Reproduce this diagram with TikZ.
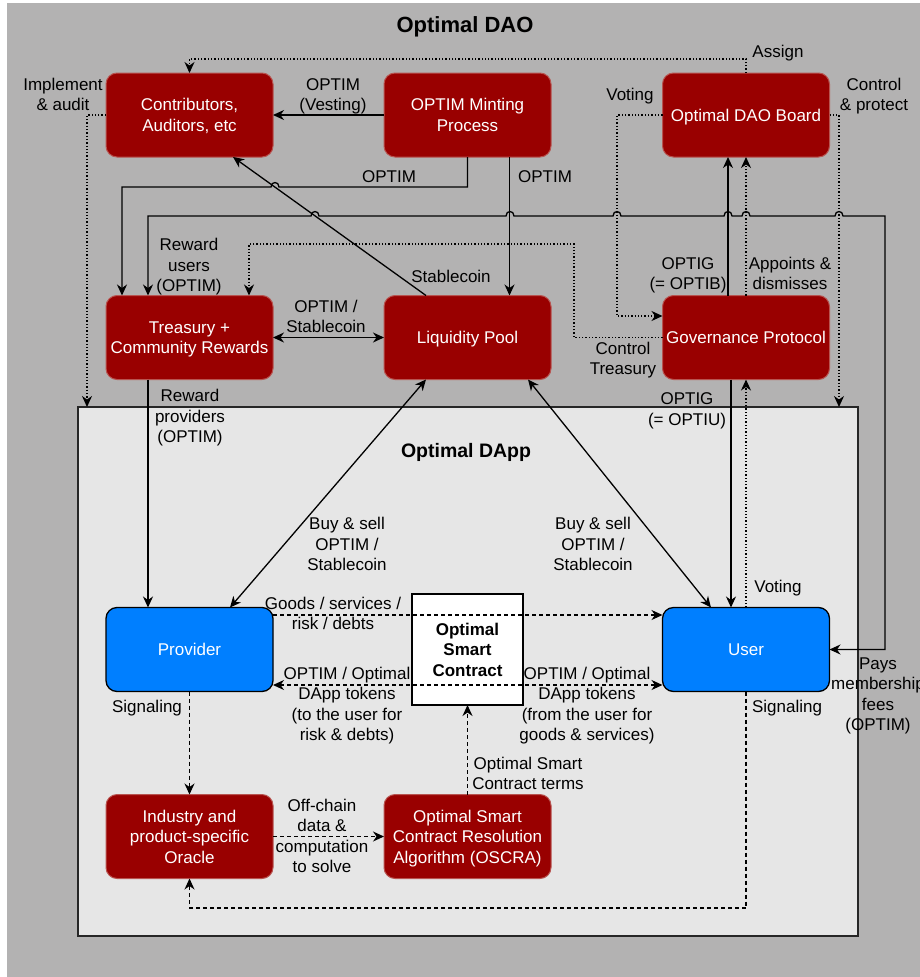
\documentclass[tikz,border=0pt]{standalone}
\usepackage{fontspec}
\setmainfont{Liberation Sans}
\usetikzlibrary{arrows.meta}

\definecolor{daogray}{RGB}{179,178,178}
\definecolor{dappgray}{RGB}{230,230,230}
\definecolor{daored}{RGB}{153,0,0}
\definecolor{daoedge}{RGB}{184,84,80}
\definecolor{dappblue}{RGB}{0,127,255}

\newcommand\linehop[2]{-- (#1+4,#2) .. controls (#1+4,#2-6) and (#1-4,#2-6) .. (#1-4,#2)}

\begin{document}
\begin{tikzpicture}[x=1pt,y=-1pt,font=\fontsize{17}{20.5}\selectfont,
  redbox/.style={draw=daoedge,fill=daored,text=white,line width=1pt,rounded corners=11pt,
    minimum width=167pt,minimum height=84pt,align=center,inner sep=1pt,outer sep=0pt,text depth=0pt},
  bluebox/.style={draw=black,fill=dappblue,text=white,line width=1.3pt,rounded corners=11pt,
    minimum width=167pt,minimum height=84pt,outer sep=0pt,text depth=0pt},
  lbl/.style={align=center,inner sep=0pt,text depth=0pt},
  flow/.style={line width=1.3pt,-{Stealth[length=11pt,width=10pt,inset=3.5pt]}},
  twoway/.style={line width=1.3pt,{Stealth[length=11pt,width=10pt,inset=3.5pt]}-{Stealth[length=11pt,width=10pt,inset=3.5pt]}},
  dotline/.style={dash pattern=on 1.3pt off 2pt},
  dashline/.style={dash pattern=on 4pt off 3pt}]
\useasboundingbox (0,0) rectangle (920,977);
\fill[daogray] (7,3) rectangle (920,977);
\node[draw=black!85,fill=dappgray,line width=1.3pt,minimum width=780pt,minimum height=529pt,outer sep=0pt] (dapp) at (468,671.5) {};

\node[font=\bfseries\fontsize{22}{26}\selectfont,text depth=0pt] (daotitle) at (465,25) {Optimal DAO};
\node[font=\bfseries\fontsize{19.5}{23}\selectfont,text depth=0pt] (dapptitle) at (466,450) {Optimal DApp};

\node[redbox] (contrib) at (189.5,115) {Contributors,\\Auditors, etc};
\node[redbox] (mint) at (467.5,115) {OPTIM Minting\\Process};
\node[redbox] (board) at (746,115) {Optimal DAO Board};
\node[redbox] (treas) at (189.5,337.5) {Treasury +\\Community Rewards};
\node[redbox] (pool) at (467.5,337.5) {Liquidity Pool};
\node[redbox] (gov) at (746,337.5) {Governance Protocol};
\node[bluebox] (prov) at (189.5,649.5) {Provider};
\node[bluebox] (user) at (746,649.5) {User};
\node[draw,fill=white,line width=1.3pt,minimum size=111pt,align=center,outer sep=0pt,text depth=0pt,
  font=\bfseries\fontsize{17}{20.5}\selectfont] (osc) at (467.5,649.5) {Optimal\\Smart\\Contract};
\node[redbox] (oracle) at (189.5,836.5) {Industry and\\product-specific\\Oracle};
\node[redbox] (oscra) at (467.5,836.5) {Optimal Smart\\Contract Resolution\\Algorithm (OSCRA)};

\draw[flow] (mint.west) -- (contrib.east);
\draw[flow] (mint.south) -- (467.5,187) \linehop{275}{187} -- (122,187) -- ([xshift=-67.5pt]treas.north);
\draw[flow] ([xshift=42pt]mint.south) -- ([xshift=42pt]pool.north);
\draw[flow] ([xshift=-41.5pt]pool.north) -- ([xshift=43.5pt]contrib.south);
\draw[twoway] (treas.east) -- (pool.west);
\draw[twoway] (user.east) -- (885,649.5) -- (885,216) \linehop{839}{216} \linehop{746}{216}
  \linehop{728}{216} \linehop{617}{216} \linehop{510}{216} \linehop{315}{216}
  -- (148,216) -- ([xshift=-41.5pt]treas.north);
\draw[flow,dotline] (gov.west) -| (574,244) -| ([xshift=59.5pt]treas.north);
\draw[flow,dotline] (board.west) -- (617,115) -- (617,316) -- ([yshift=21.5pt]gov.west);
\draw[flow] ([xshift=-18pt]gov.north) -- ([xshift=-18pt]board.south);
\draw[flow,dotline] (gov.north) -- (board.south);
\draw[flow,dotline] (board.north) -- (746,59) -- (189.5,59) -- (contrib.north);
\draw[flow,dotline] (contrib.west) -| ([xshift=9pt]dapp.north west);
\draw[flow,dotline] (board.east) -| ([xshift=-19pt]dapp.north east);
\draw[flow] ([xshift=-15pt]gov.south) -- ([xshift=-15pt]user.north);
\draw[flow,dotline] (user.north) -- (gov.south);
\draw[flow] ([xshift=-41.5pt]treas.south) -- ([xshift=-41.5pt]prov.north);
\draw[twoway] ([xshift=-41.5pt]pool.south) -- ([xshift=40.5pt]prov.north);
\draw[twoway] ([xshift=60.5pt]pool.south) -- ([xshift=-35pt]user.north);
\draw[flow,dashline] ([yshift=34.5pt]prov.east) -- ([yshift=34.5pt]user.west);
\draw[twoway,dashline] ([yshift=-35.5pt]prov.east) -- ([yshift=-35.5pt]user.west);
\draw[flow,dashline] (prov.south) -- (oracle.north);
\draw[flow,dashline] (user.south) |- ([yshift=-29.5pt]oracle.south) -- (oracle.south);
\draw[flow,dashline] (oracle.east) -- (oscra.west);
\draw[flow,dashline] (oscra.north) -- (osc.south);

\node[lbl] (limpl) at (63,94.5) {Implement\\\& audit};
\node[lbl] (lvest) at (333,94.5) {OPTIM\\(Vesting)};
\node[lbl] (lassign) at (778,51.5) {Assign};
\node[lbl] (lvote) at (630,94) {Voting};
\node[lbl] (lprotect) at (874,94.5) {Control\\\& protect};
\node[lbl] (ltreas) at (389,177) {OPTIM};
\node[lbl] (lpool) at (545,177) {OPTIM};
\node[lbl] (lrewu) at (189,265) {Reward\\users\\(OPTIM)};
\node[lbl] (lstable) at (451,276) {Stablecoin};
\node[lbl] (lswap) at (326,316.5) {OPTIM /\\Stablecoin};
\node[lbl] (loptib) at (688,273.5) {OPTIG\\(= OPTIB)};
\node[lbl] (lappoint) at (790,273.5) {Appoints \&\\dismisses};
\node[lbl] (lctrl) at (623,358.5) {Control\\Treasury};
\node[lbl] (loptiu) at (687,409) {OPTIG\\(= OPTIU)};
\node[lbl] (lrewp) at (190,416) {Reward\\providers\\(OPTIM)};
\node[lbl] (lbuyp) at (347,544) {Buy \& sell\\OPTIM /\\Stablecoin};
\node[lbl] (lbuyu) at (593,544) {Buy \& sell\\OPTIM /\\Stablecoin};
\node[lbl] (luvote) at (778,586.5) {Voting};
\node[lbl] (lgoods) at (333,613.5) {Goods / services /\\risk / debts};
\node[lbl] (ltokp) at (347,704) {OPTIM / Optimal\\DApp tokens\\(to the user for\\risk \& debts)};
\node[lbl] (ltoku) at (587,704) {OPTIM / Optimal\\DApp tokens\\(from the user for\\goods \& services)};
\node[lbl] (lsigp) at (147,706.5) {Signaling};
\node[lbl] (lsigu) at (787,706.5) {Signaling};
\node[lbl] (lfees) at (878,694) {Pays\\membership\\fees\\(OPTIM)};
\node[lbl] (lterms) at (528,773.5) {Optimal Smart\\Contract terms};
\node[lbl] (loff) at (322,836) {Off-chain\\data \&\\computation\\to solve};
\end{tikzpicture}
\end{document}
